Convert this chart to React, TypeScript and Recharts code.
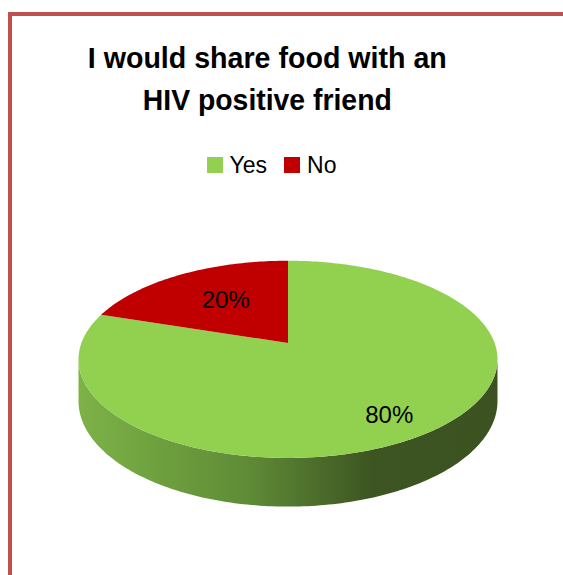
import React from 'react';
import { PieChart, Pie, Cell, Legend, Customized } from 'recharts';

const categories = ['Yes', 'No'];
const values = [80, 20];
const valueLabels = ['80%', '20%'];
const colors = ['#92D050', '#C00000'];
const titleLines = ['I would share food with an', 'HIV positive friend'];

const data = categories.map((name, i) => ({ name, value: values[i] }));

const K = 0.1657; // perspective factor
const B_RATIO = 0.4642; // vertical squash
const DEPTH_RATIO = 40.6 / 206.6;
const RAD = Math.PI / 180;
const FONT = "'Liberation Sans', Arial, sans-serif";

function project(cx: number, cy: number, a: number, deg: number, r: number) {
  const u = r * Math.cos(deg * RAD);
  const v = r * Math.sin(deg * RAD);
  const w = 1 + K * v;
  return { x: cx + (a * u) / w, y: cy - (a * B_RATIO * v) / w, w };
}

const Sector3D = (props: any) => {
  const { cx, cy, outerRadius, startAngle, endAngle, fill } = props;
  const a = outerRadius;
  const s = Math.min(startAngle, endAngle);
  const e = Math.max(startAngle, endAngle);
  const phi = Math.asin(K) / RAD;
  const steps = Math.max(2, Math.ceil(e - s));
  let top = `M${cx},${cy}`;
  for (let i = 0; i <= steps; i++) {
    const p = project(cx, cy, a, s + ((e - s) * i) / steps, 1);
    top += `L${p.x},${p.y}`;
  }
  top += 'Z';
  const sides: React.ReactNode[] = [];
  [-720, -360, 0, 360, 720].forEach((shift) => {
    const fs = -180 + phi + shift;
    const fe = -phi + shift;
    const lo = Math.max(s, fs);
    const hi = Math.min(e, fe);
    if (hi > lo) {
      const n = Math.max(2, Math.ceil(hi - lo));
      const upper: string[] = [];
      const lower: string[] = [];
      for (let i = 0; i <= n; i++) {
        const p = project(cx, cy, a, lo + ((hi - lo) * i) / n, 1);
        upper.push(`${p.x},${p.y}`);
        lower.push(`${p.x},${p.y + (a * DEPTH_RATIO) / p.w}`);
      }
      const d = `M${upper.join('L')}L${lower.reverse().join('L')}Z`;
      sides.push(<path key={shift} d={d} fill="url(#sideGrad)" />);
    }
  });
  return (
    <g>
      <defs>
        <linearGradient id="sideGrad" gradientUnits="userSpaceOnUse" x1={cx - a * 1.014} y1={0} x2={cx + a * 1.014} y2={0}>
          <stop offset="0" stopColor="#7DB247" />
          <stop offset="0.4" stopColor="#5F8C36" />
          <stop offset="0.7" stopColor="#3D5522" />
          <stop offset="1" stopColor="#3C5321" />
        </linearGradient>
      </defs>
      {sides}
      <path d={top} fill={fill} />
    </g>
  );
};

const renderLabel = (props: any) => {
  const { cx, cy, midAngle, outerRadius, percent, index } = props;
  const r = percent < 0.5 ? 0.55 : 0.75;
  const p = project(cx, cy, outerRadius, midAngle, r);
  const y = cy + (p.y - cy) * 1.1;
  return (
    <text x={p.x} y={y} textAnchor="middle" dominantBaseline="central" fontFamily={FONT} fontSize={24} fill="#000">
      {valueLabels[index]}
    </text>
  );
};

const renderLegend = () => {
  return (
    <div style={{ display: 'flex', justifyContent: 'center', alignItems: 'center', fontFamily: FONT, fontSize: 23, color: '#000', lineHeight: 1.15 }}>
      {categories.map((name, i) => (
        <div key={name} style={{ display: 'flex', alignItems: 'center', marginRight: i < categories.length - 1 ? 17 : 0 }}>
          <span style={{ display: 'inline-block', width: 16, height: 16, background: colors[i], marginRight: 7 }} />
          <span>{name}</span>
        </div>
      ))}
    </div>
  );
};

const Title = () => (
  <g>
    <text x={267.3} y={68.3} textAnchor="middle" fontFamily={FONT} fontWeight="bold" fontSize={30} fill="#000" textLength={359} lengthAdjust="spacingAndGlyphs">
      {titleLines[0]}
    </text>
    <text x={267.3} y={110} textAnchor="middle" fontFamily={FONT} fontWeight="bold" fontSize={30} fill="#000" textLength={249} lengthAdjust="spacingAndGlyphs">
      {titleLines[1]}
    </text>
  </g>
);

export default function App() {
  return (
    <div style={{ position: 'absolute', left: 0, top: 0, width: 563, height: 575, overflow: 'hidden', background: '#fff' }}>
      <div style={{ position: 'absolute', left: 8, top: 12, width: 700, height: 700, border: '4px solid #C0504D', boxSizing: 'border-box' }} />
      <div style={{ position: 'absolute', left: 0, top: 0 }}>
        <PieChart width={563} height={575} margin={{ top: 0, right: 0, bottom: 0, left: 0 }}>
          <Customized component={Title} />
          <Pie
            data={data}
            dataKey="value"
            nameKey="name"
            cx={288}
            cy={343}
            outerRadius={206.6}
            startAngle={90}
            endAngle={-270}
            stroke="none"
            isAnimationActive={false}
            shape={Sector3D}
            label={renderLabel}
            labelLine={false}
          >
            {data.map((d, i) => (
              <Cell key={d.name} fill={colors[i]} />
            ))}
          </Pie>
          <Legend content={renderLegend} wrapperStyle={{ position: 'absolute', top: 152, left: 0, width: 543 }} />
        </PieChart>
      </div>
    </div>
  );
}
